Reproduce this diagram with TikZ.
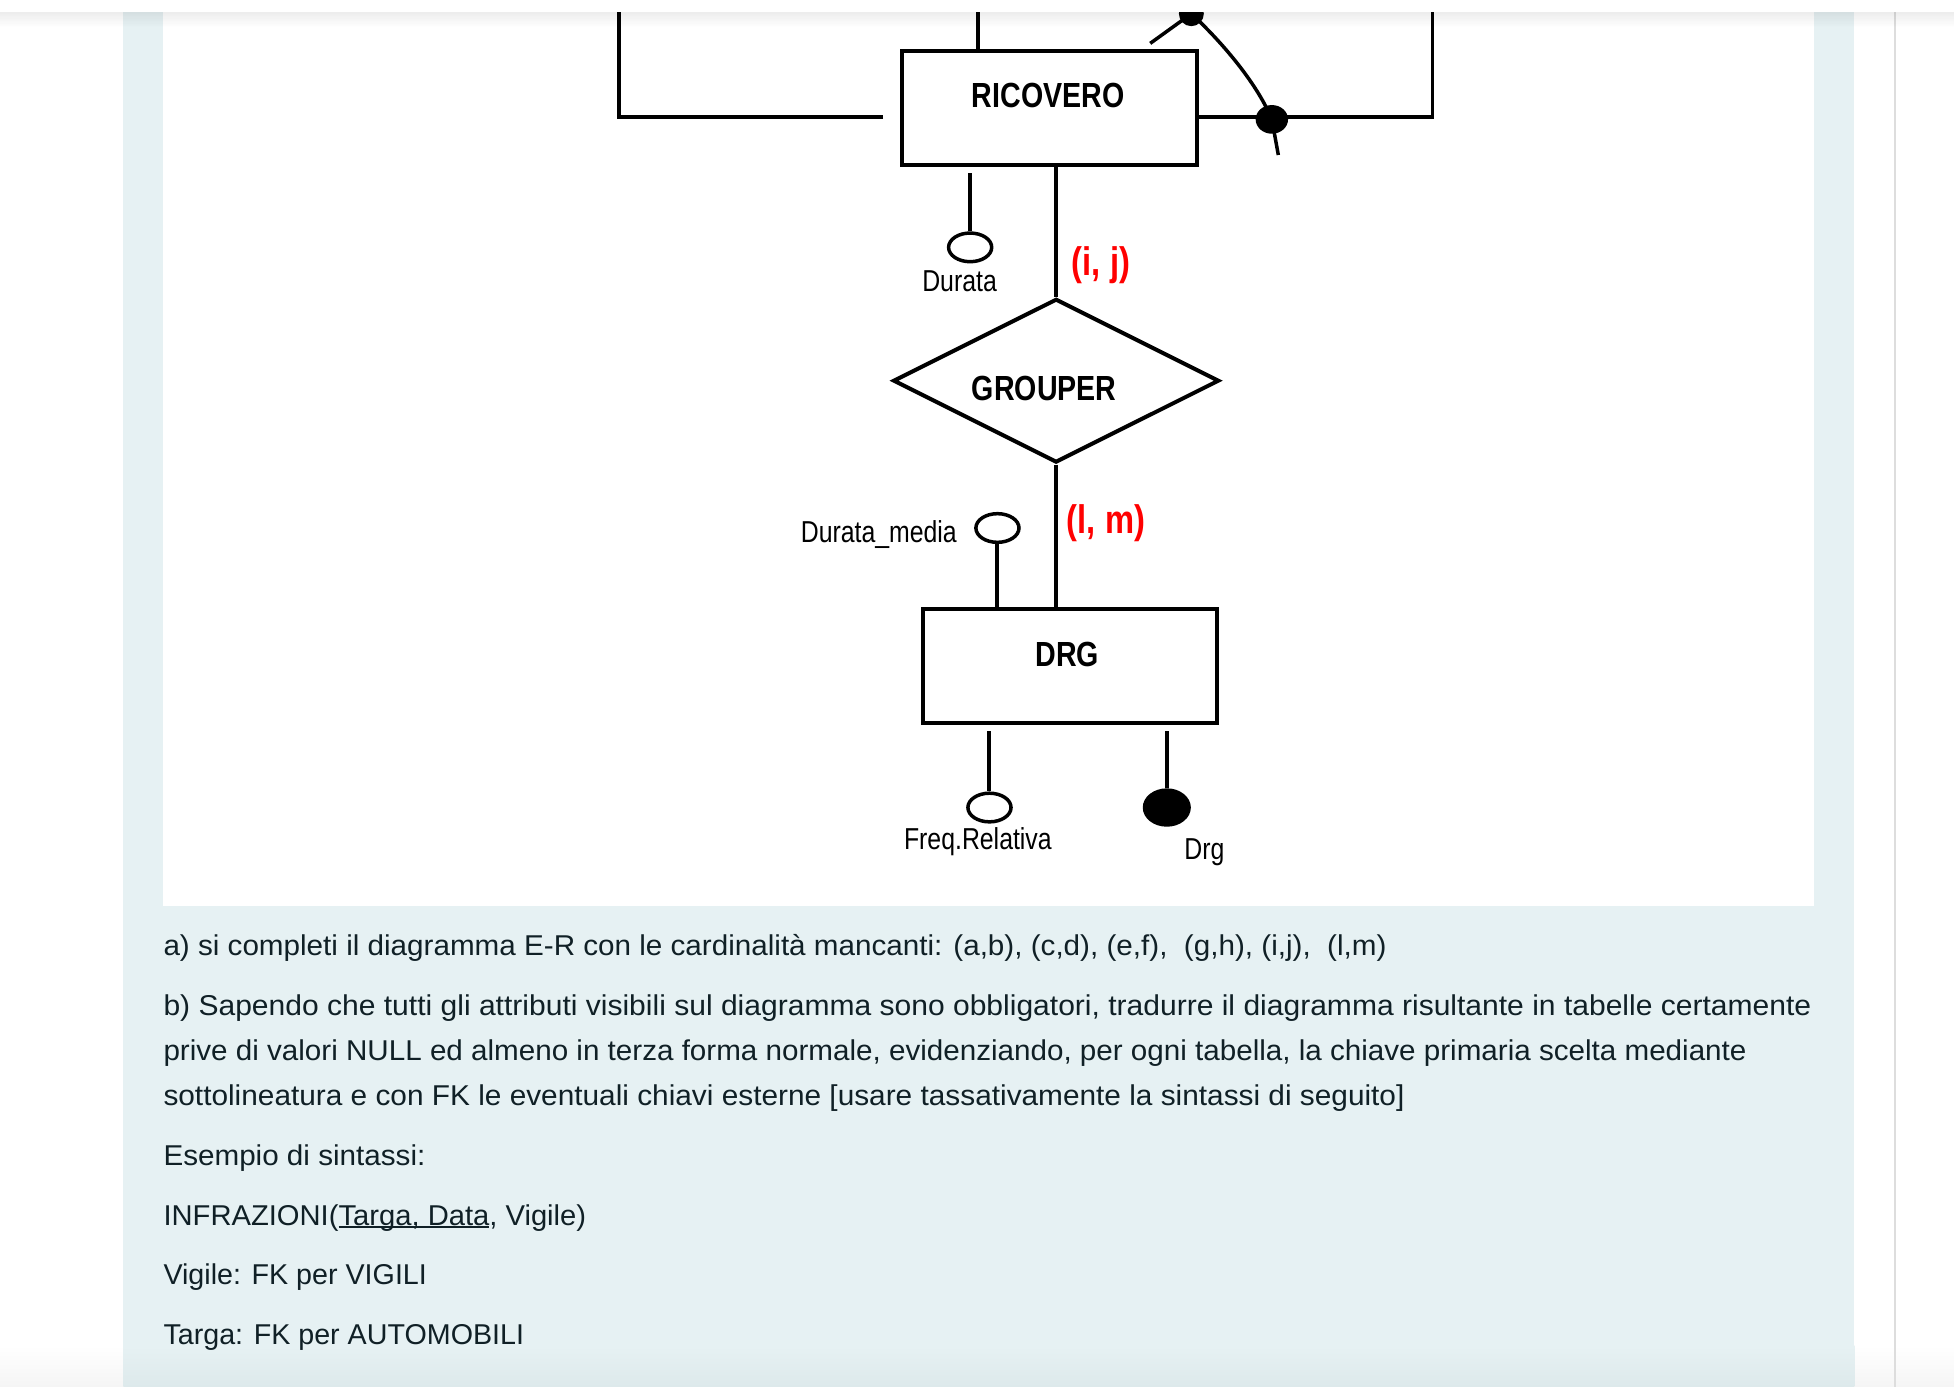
\documentclass[tikz,border=0pt]{standalone}
\usepackage{fontspec}
\usepackage{graphicx}
\setmainfont{Liberation Sans}
\newfontfamily\erfont[FakeStretch=0.82]{Liberation Sans}
\usetikzlibrary{shapes.geometric}
\definecolor{panel}{RGB}{230,241,243}
\definecolor{panelb}{RGB}{221,233,235}
\definecolor{txt}{RGB}{16,32,38}
\definecolor{sepline}{RGB}{221,221,221}
\definecolor{cardred}{RGB}{255,0,0}
\newcommand\myul[1]{\setbox0\hbox{#1}\rlap{\rule[-2.6pt]{\wd0}{1.5pt}}\box0}
\newcommand\sx[2]{\scalebox{#1}[1]{#2}}
\tikzset{
  entity/.style={draw, line width=3.2pt, inner sep=0pt},
  relship/.style={draw, diamond, line width=3.2pt, inner sep=0pt},
  attro/.style={draw, ellipse, fill=white, line width=2.8pt, inner sep=0pt, minimum width=34.6pt, minimum height=23pt},
  attrf/.style={fill=black, ellipse, inner sep=0pt, minimum width=38.6pt, minimum height=30.8pt},
  boldlab/.style={inner sep=0pt, anchor=base, font=\erfont\bfseries\fontsize{28}{32}\selectfont},
  attrlab/.style={inner sep=0pt, anchor=base, font=\erfont\fontsize{24.3}{28}\selectfont},
  cardlab/.style={inner sep=0pt, anchor=base west, text=cardred, font=\erfont\bfseries\fontsize{32}{36}\selectfont},
  bodytext/.style={inner sep=0pt, anchor=base west, text=txt, font=\fontsize{23}{28}\selectfont},
  conn/.style={line width=3.2pt},
  thinconn/.style={line width=2.8pt}
}
\begin{document}
\begin{tikzpicture}[x=1pt,y=-1pt]
\useasboundingbox (0,0) rectangle (1568,1113);
% page background
\fill[white] (0,0) rectangle (1568,1113);
\shade[top color=white, bottom color=black!4] (0,1080) rectangle (1568,1113);
\fill[panel] (99,10) rectangle (1488,1080);
\shade[top color=panel, bottom color=panelb] (99,1080) rectangle (1488,1113);
\fill[sepline] (1520.2,10) rectangle (1521.8,1113);
\fill[white] (131,10) rectangle (1456,727);

% ---------- diagram ----------
\node[entity, minimum width=236.2pt, minimum height=91pt] (ricovero) at (842.3,86.7) {};
\node[boldlab] (ricoverolab) at (841,86) {RICOVERO};
\node[relship, minimum width=261.6pt, minimum height=131.4pt] (grouper) at (847.5,305.5) {};
\node[boldlab] (grouperlab) at (838,321) {GROUPER};
\node[entity, minimum width=235.6pt, minimum height=91.2pt] (drg) at (858.5,534.6) {};
\node[boldlab] (drglab) at (856.5,535) {DRG};

% connectors at the top
\coordinate (topend) at (784.8,0);
\draw[conn] (topend |- ricovero.north) -- (topend);
\coordinate (lgap) at (708.6,93.6);
\coordinate (lcorner) at (496.8,93.6);
\coordinate (ltop) at (496.8,0);
\draw[conn] (lgap) -- (lcorner) -- (ltop);
\coordinate (rcorner) at (1149.5,93.8);
\coordinate (rtop) at (1149.5,0);
\draw[conn] (ricovero.east |- rcorner) -- (rcorner) -- (rtop);

% curved identifier line
\node[fill=black, circle, inner sep=0pt, minimum size=20pt] (dottop) at (956,11) {};
\node[fill=black, ellipse, inner sep=0pt, minimum width=26pt, minimum height=23pt] (dotmid) at (1020.6,95.8) {};
\coordinate (cstart) at (923,34.8);
\coordinate (cend) at (1025.8,124.4);
\draw[thinconn] (cstart) -- (dottop.center);
\draw[thinconn] (dottop.center) .. controls (985,38) and (1010,70) .. (dotmid.center) -- (cend);

% relationship lines
\draw[conn] (grouper.north |- ricovero.south) -- (grouper.north);
\draw[conn] (grouper.south) -- (grouper.south |- drg.north);
\node[cardlab] (ij) at (860,221) {(i, j)};
\node[cardlab] (lm) at (856,428) {(l, m)};

% attributes of RICOVERO
\coordinate (durtop) at (778.5,139);
\node[attro] (durata) at (778.5,198.5) {};
\draw[conn] (durata.north) -- (durtop);
\node[attrlab] (duratalab) at (770,234) {Durata};

% attributes of DRG
\node[attro] (durmedia) at (800.4,423.7) {};
\draw[conn] (durmedia.south) -- (durmedia.south |- drg.north);
\node[attrlab, anchor=base east] (durmedialab) at (768,435) {Durata\_media};

\coordinate (freqtop) at (794,586.4);
\node[attro] (freq) at (794,648) {};
\draw[conn] (freq.north) -- (freqtop);
\node[attrlab] (freqlab) at (784.7,682) {Freq.Relativa};

\coordinate (drgtop) at (936.3,586.4);
\node[attrf] (drgattr) at (936.3,648) {};
\draw[conn] (drgattr.north) -- (drgtop);
\node[attrlab] (drgattrlab) at (966.5,690) {Drg};

% top bar and its shadow
\foreach \i in {0,...,11} {
  \fill[black, opacity={0.07*(1-\i/12)}] (0,10+\i) rectangle (1568,11+\i);
}
\fill[white] (0,0) rectangle (1568,10);

% ---------- text ----------
\node[bodytext] (ta) at (131,767) {\sx{1.034}{a) si completi il diagramma E-R con le cardinalità mancanti: (a,b), (c,d), (e,f),~ (g,h), (i,j),~ (l,m)}};
\node[bodytext] (tb1) at (131,815) {\sx{1.048}{b) Sapendo che tutti gli attributi visibili sul diagramma sono obbligatori, tradurre il diagramma risultante in tabelle certamente}};
\node[bodytext] (tb2) at (131,851) {\sx{1.033}{prive di valori NULL ed almeno in terza forma normale, evidenziando, per ogni tabella, la chiave primaria scelta mediante}};
\node[bodytext] (tb3) at (131,887) {\sx{1.040}{sottolineatura e con FK le eventuali chiavi esterne [usare tassativamente la sintassi di seguito]}};
\node[bodytext] (te) at (131,935) {\sx{1.034}{Esempio di sintassi:}};
\node[bodytext] (tinf) at (131,983) {\sx{1.018}{INFRAZIONI(\myul{Targa, Data}, Vigile)}};
\node[bodytext] (tvig) at (131,1031) {Vigile: FK per VIGILI};
\node[bodytext] (ttar) at (131,1079) {Targa: FK per AUTOMOBILI};
\end{tikzpicture}
\end{document}
